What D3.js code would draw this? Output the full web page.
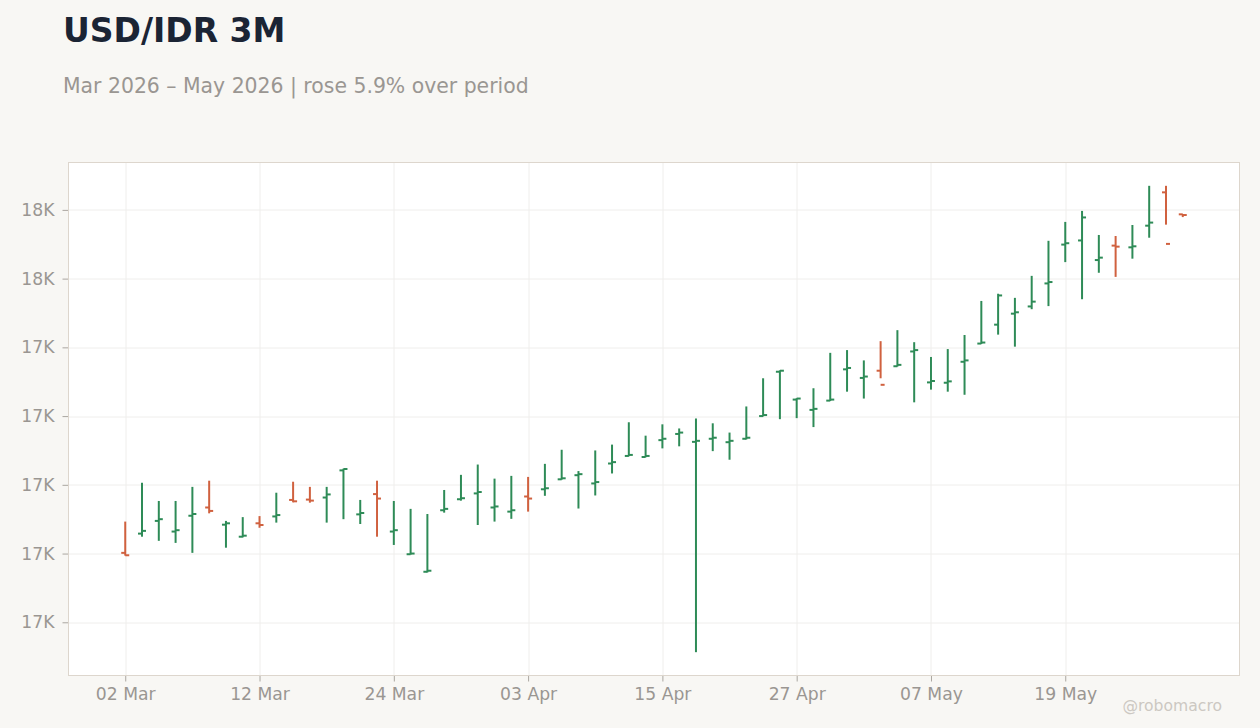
<!DOCTYPE html>
<html>
<head>
<meta charset="utf-8">
<script src="https://cdn.jsdelivr.net/npm/d3@7"></script>
<style>
  html, body { margin: 0; padding: 0; background: #f8f7f4; }
  body { width: 1260px; height: 728px; overflow: hidden; font-family: "DejaVu Sans", sans-serif; }
</style>
</head>
<body>
<div id="chart"></div>
<script>
// trading days, Mar 2 - May 28 2026
const dates = [
  "2026-03-02","2026-03-03","2026-03-04","2026-03-05","2026-03-06","2026-03-09","2026-03-10","2026-03-11",
  "2026-03-12","2026-03-13","2026-03-16","2026-03-17","2026-03-18","2026-03-19","2026-03-20","2026-03-23",
  "2026-03-24","2026-03-25","2026-03-26","2026-03-27","2026-03-30","2026-03-31","2026-04-01","2026-04-02",
  "2026-04-03","2026-04-06","2026-04-07","2026-04-08","2026-04-09","2026-04-10","2026-04-13","2026-04-14",
  "2026-04-15","2026-04-16","2026-04-17","2026-04-20","2026-04-21","2026-04-22","2026-04-23","2026-04-24",
  "2026-04-27","2026-04-28","2026-04-29","2026-04-30","2026-05-01","2026-05-04","2026-05-05","2026-05-06",
  "2026-05-07","2026-05-08","2026-05-11","2026-05-12","2026-05-13","2026-05-14","2026-05-15","2026-05-18",
  "2026-05-19","2026-05-20","2026-05-21","2026-05-22","2026-05-25","2026-05-26","2026-05-27","2026-05-28"
];
const open = [
  16802,16858,16895,16864,16910,16934,16884,16849,16888,16908,16956,16957,16963,17042,16914,16973,
  16864,16798,16747,16926,16958,16975,16934,16922,16966,16987,17016,17028,17004,17062,17084,17081,
  17130,17148,17125,17134,17124,17134,17200,17329,17248,17218,17245,17336,17311,17332,17345,17388,
  17298,17297,17358,17411,17466,17498,17519,17586,17699,17711,17654,17696,17691,17754,17851,17787
];
const high = [
  16893,17006,16953,16953,16994,17012,16895,16906,16909,16977,17009,16994,16994,17047,16956,17012,
  16953,16930,16915,16985,17029,17059,17018,17026,17023,17061,17102,17040,17100,17117,17182,17143,
  17176,17164,17193,17179,17152,17228,17310,17333,17252,17281,17384,17392,17362,17418,17450,17415,
  17372,17395,17436,17535,17556,17544,17608,17710,17765,17797,17727,17724,17756,17870,17870,17788
];
const low = [
  16794,16849,16837,16831,16802,16917,16817,16847,16875,16890,16949,16948,16890,16900,16886,16849,
  16825,16797,16745,16919,16954,16883,16893,16901,16922,16968,17015,16931,16969,17033,17083,17080,
  17106,17112,16513,17098,17073,17132,17199,17191,17194,17168,17244,17271,17251,17310,17344,17240,
  17277,17271,17262,17410,17437,17402,17511,17520,17648,17540,17617,17605,17658,17719,17757,17779
];
const close = [
  16795,16866,16900,16868,16915,16924,16888,16852,16883,16912,16952,16954,16972,17046,16918,16960,
  16868,16800,16750,16930,16961,16979,16937,16926,16960,16990,17019,17031,17008,17066,17087,17084,
  17134,17152,17128,17137,17128,17137,17203,17332,17251,17221,17248,17340,17315,17291,17349,17392,
  17302,17301,17362,17414,17551,17502,17533,17590,17703,17778,17661,17693,17694,17763,17701,17785
];
const xTickIdx = [0, 8, 16, 24, 32, 40, 48, 56];

const width = 1260, height = 728;
const margin = {top: 162.5, right: 20.5, bottom: 52.5, left: 68.5};
const upColor = '#2e8b57', downColor = '#d0613f';

const parse = d3.timeParse('%Y-%m-%d');
const data = dates.map((d, i) => ({
  i: i, date: parse(d), o: open[i], h: high[i], l: low[i], c: close[i]
}));

const svg = d3.select('#chart').append('svg').attr('width', width).attr('height', height);
svg.append('rect').attr('width', width).attr('height', height).attr('fill', '#f8f7f4');

const innerW = width - margin.left - margin.right;
const innerH = height - margin.top - margin.bottom;

svg.append('text').attr('x', 63).attr('y', 42)
  .attr('font-size', 33).attr('font-weight', 'bold').attr('fill', '#1b2434')
  .text('USD/IDR 3M');
svg.append('text').attr('x', 63).attr('y', 92.5)
  .attr('font-size', 20.4).attr('fill', '#9a9692')
  .text('Mar 2026 \u2013 May 2026 | rose 5.9% over period');

const g = svg.append('g').attr('transform', 'translate(' + [margin.left, margin.top] + ')');
g.append('rect').attr('width', innerW).attr('height', innerH).attr('fill', '#ffffff');

// x on trading-day index, so weekends leave no gaps
const n = data.length;
const xPad = 3.38;
const xScale = d3.scaleLinear().domain([-xPad, n - 1 + xPad]).range([0, innerW]);

const yMin = d3.min(data, d => d.l), yMax = d3.max(data, d => d.h);
const yPad = (yMax - yMin) * 0.05;
const yScale = d3.scaleLinear().domain([yMin - yPad, yMax + yPad]).range([innerH, 0]);

const fmtDate = d3.timeFormat('%d %b');
const fmtY = v => d3.format('.2s')(v).replace('k', 'K');

// grid
g.append('g').selectAll('line').data(yScale.ticks(10)).enter().append('line')
  .attr('x1', 0).attr('x2', innerW)
  .attr('y1', d => Math.round(yScale(d)) + 0.5).attr('y2', d => Math.round(yScale(d)) + 0.5)
  .attr('stroke', '#efeeec').attr('stroke-width', 1);
g.append('g').selectAll('line').data(xTickIdx).enter().append('line')
  .attr('x1', d => Math.round(xScale(d)) + 0.5).attr('x2', d => Math.round(xScale(d)) + 0.5)
  .attr('y1', 0).attr('y2', innerH)
  .attr('stroke', '#efeeec').attr('stroke-width', 1);

// axes
const xAxis = d3.axisBottom(xScale).tickValues(xTickIdx)
  .tickFormat(i => fmtDate(data[i].date)).tickSize(6).tickPadding(6);
const yAxis = d3.axisLeft(yScale).ticks(10).tickFormat(fmtY).tickSize(6).tickPadding(8);

const xg = g.append('g').attr('class', 'xAxis')
  .attr('transform', 'translate(' + [0, innerH] + ')').call(xAxis);
const yg = g.append('g').attr('class', 'yAxis').call(yAxis);
[xg, yg].forEach(a => {
  a.select('.domain').remove();
  a.selectAll('.tick line').attr('stroke', '#aaa6a0');
  a.selectAll('.tick text').attr('fill', '#9a9692').attr('font-size', 17.2)
    .attr('font-family', '"DejaVu Sans", sans-serif');
});

// frame
g.append('rect').attr('width', innerW).attr('height', innerH)
  .attr('fill', 'none').attr('stroke', '#ddd6cd').attr('stroke-width', 1);

// OHLC bars
const tickLen = 4;
const bars = g.append('g').selectAll('g').data(data).enter().append('g')
  .attr('stroke', d => d.c >= d.o ? upColor : downColor)
  .attr('stroke-width', 2);
bars.append('line')
  .attr('x1', d => xScale(d.i)).attr('x2', d => xScale(d.i))
  .attr('y1', d => yScale(d.h)).attr('y2', d => yScale(d.l));
bars.append('line')
  .attr('x1', d => xScale(d.i) - tickLen).attr('x2', d => xScale(d.i))
  .attr('y1', d => yScale(d.o)).attr('y2', d => yScale(d.o));
bars.append('line')
  .attr('x1', d => xScale(d.i)).attr('x2', d => xScale(d.i) + tickLen)
  .attr('y1', d => yScale(d.c)).attr('y2', d => yScale(d.c));

svg.append('text').attr('x', 1222).attr('y', 711).attr('text-anchor', 'end')
  .attr('font-size', 15.6).attr('fill', '#ccc8c2')
  .text('@robomacro');
</script>
</body>
</html>
